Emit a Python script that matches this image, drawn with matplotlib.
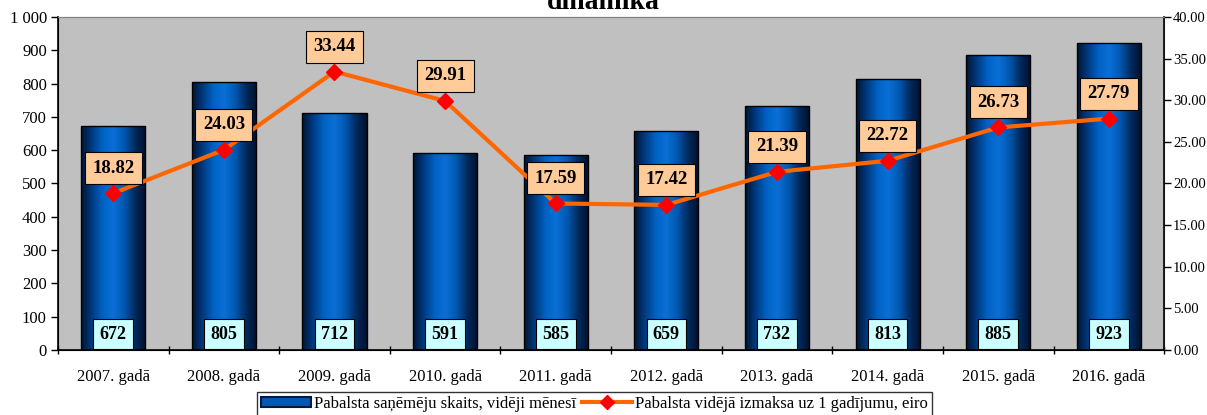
import numpy as np
import matplotlib
matplotlib.use("Agg")
import matplotlib.pyplot as plt
from matplotlib.colors import LinearSegmentedColormap
from matplotlib.patches import Rectangle
from matplotlib.lines import Line2D
from matplotlib.legend_handler import HandlerPatch
from matplotlib.ticker import FuncFormatter, MultipleLocator

plt.rcParams['font.family'] = ['Liberation Serif', 'DejaVu Serif']

years = ['2007. gadā', '2008. gadā', '2009. gadā', '2010. gadā', '2011. gadā',
         '2012. gadā', '2013. gadā', '2014. gadā', '2015. gadā', '2016. gadā']
recipients = [672, 805, 712, 591, 585, 659, 732, 813, 885, 923]
avg_payment = [18.82, 24.03, 33.44, 29.91, 17.59, 17.42, 21.39, 22.72, 26.73, 27.79]

bar_label = 'Pabalsta saņēmēju skaits, vidēji mēnesī'
line_label = 'Pabalsta vidējā izmaksa uz 1 gadījumu, eiro'

# cylinder-like shading: dark edges, bright centre
cyl = LinearSegmentedColormap.from_list('cyl', ['#001530', '#003a80', '#0062c4', '#0a6fd6', '#0058b0', '#002a5e', '#00102a'])
grad = np.linspace(0, 1, 256).reshape(1, -1)

fig = plt.figure(figsize=(12.07, 4.15), dpi=100)
ax = fig.add_axes([0.048, 0.157, 0.9165, 0.802])
ax.set_facecolor('#c0c0c0')

x = np.arange(len(years))
w = 0.58
bars = ax.bar(x, recipients, width=w, color='none', edgecolor='black', linewidth=1.0, zorder=3)
for b in bars:
    x0, y0 = b.get_x(), b.get_y()
    im = ax.imshow(grad, cmap=cyl, aspect='auto', zorder=2,
                   extent=[x0, x0 + b.get_width(), y0, y0 + b.get_height()])
    im.set_clip_path(b)

ax.set_xlim(-0.5, len(years) - 0.5)
ax.set_ylim(0, 1000)
ax.yaxis.set_major_locator(MultipleLocator(100))
ax.yaxis.set_major_formatter(FuncFormatter(lambda v, p: f'{int(v):,}'.replace(',', ' ')))
ax.set_xticks(x)
ax.set_xticklabels(years)
ax.set_xticks(np.arange(-0.5, len(years)), minor=True)
ax.tick_params(axis='x', which='major', length=0, pad=14, labelsize=12)
ax.tick_params(axis='x', which='minor', length=6, width=1, direction='inout')
ax.tick_params(axis='y', length=5, width=1, labelsize=12, direction='out', pad=3)

for s in ['left', 'bottom']:
    ax.spines[s].set_linewidth(1.2)
ax.spines['top'].set_color('#808080')
ax.spines['right'].set_color('#808080')

for xi, v in zip(x, recipients):
    ax.text(xi, 47, f'{v}', ha='center', va='center', fontsize=13, fontweight='bold', zorder=6,
            bbox=dict(boxstyle='square,pad=0.35', facecolor='#ccffff', edgecolor='black', linewidth=0.8))

ax2 = ax.twinx()
ax2.set_ylim(0, 40)
ax2.yaxis.set_major_locator(MultipleLocator(5))
ax2.yaxis.set_major_formatter(FuncFormatter(lambda v, p: f'{v:.2f}'))
ax2.tick_params(axis='y', length=5, width=1, labelsize=10.5, direction='out', pad=1.5)
ax2.spines['right'].set_linewidth(1.2)
ax2.spines['right'].set_color('black')
ax2.spines['top'].set_color('#808080')
ax2.plot(x, avg_payment, color='#ff6600', linewidth=3, marker='D', markersize=8,
         markerfacecolor='#ff0000', markeredgecolor='#ff0000', zorder=5)
for xi, v in zip(x, avg_payment):
    ax2.annotate(f'{v:.2f}', (xi, v), xytext=(0, 18), textcoords='offset points',
                 ha='center', va='center', fontsize=13.5, fontweight='bold', zorder=6,
                 bbox=dict(boxstyle='square,pad=0.4', facecolor='#ffcc99', edgecolor='black', linewidth=0.8))

fig.text(0.5, 0.995, 'dinamika', ha='center', va='center', fontsize=20, fontweight='bold')


class GradHandler(HandlerPatch):
    def create_artists(self, legend, orig_handle, xdescent, ydescent, width, height, fontsize, trans):
        r = Rectangle((-xdescent, -ydescent + height * 0.1), width, height * 0.8,
                      facecolor='#0059b3', edgecolor='#001a3d', linewidth=1.5, transform=trans)
        return [r]


bar_handle = Rectangle((0, 0), 1, 1, facecolor='#0059b3', edgecolor='#001a3d')
line_handle = Line2D([], [], color='#ff6600', linewidth=3, marker='D', markersize=7,
                     markerfacecolor='#ff0000', markeredgecolor='#ff0000')
leg = fig.legend([bar_handle, line_handle], [bar_label, line_label], loc='center',
                 bbox_to_anchor=(0.4925, 0.027), ncol=2, fontsize=12, frameon=True, fancybox=False,
                 edgecolor='black', handlelength=3.0, handletextpad=0.2, columnspacing=0.3,
                 borderpad=0.25, handler_map={Rectangle: GradHandler()})
leg.get_frame().set_linewidth(1.0)

fig.savefig('out.png', dpi=100)
